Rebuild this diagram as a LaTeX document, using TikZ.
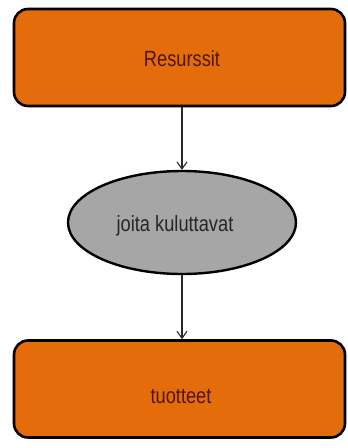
\documentclass[tikz,border=0pt]{standalone}
\usepackage{fontspec}
\setmainfont{Liberation Sans}
\usetikzlibrary{shapes.geometric,arrows.meta}
\definecolor{boxorange}{RGB}{228,108,10}
\definecolor{boxtext}{RGB}{80,22,5}
\definecolor{ellgray}{RGB}{166,166,166}
\definecolor{linegray}{RGB}{40,40,40}
\tikzset{
  stagebox/.style={draw=black, line width=2.6pt, fill=boxorange, rounded corners=14pt,
    minimum width=331pt, minimum height=97pt, inner sep=0pt, text=boxtext},
  actionell/.style={ellipse, draw=black, line width=2.4pt, fill=ellgray,
    minimum width=228pt, minimum height=103pt, inner sep=0pt, text=black!85},
  flow/.style={draw=linegray, line width=1.1pt, -{Straight Barb[length=7pt,width=10pt,line width=1.1pt]}},
  lbl/.style={font=\fontsize{22}{26}\selectfont}
}
\newcommand{\narrowtext}[1]{\scalebox{0.83}[1]{#1}}
\begin{document}
\begin{tikzpicture}[x=1pt,y=-1pt]
  \useasboundingbox (0,0) rectangle (348,448);
  \fill[white] (0,0) rectangle (348,448);
  \node[stagebox] (res) at (179.5,57.5) {};
  \node[lbl, text=boxtext] (reslbl) at (182,59) {\narrowtext{Resurssit}};
  \node[actionell] (use) at (182,222.5) {};
  \node[lbl, text=black!85] (uselbl) at (175,226) {\narrowtext{joita kuluttavat}};
  \node[stagebox] (prod) at (179.5,389) {};
  \node[lbl, text=boxtext] (prodlbl) at (181,396) {\narrowtext{tuotteet}};
  \draw[flow] (use.north |- res.south) -- (use.north);
  \draw[flow] (use.south) -- (use.south |- prod.north);
\end{tikzpicture}
\end{document}
